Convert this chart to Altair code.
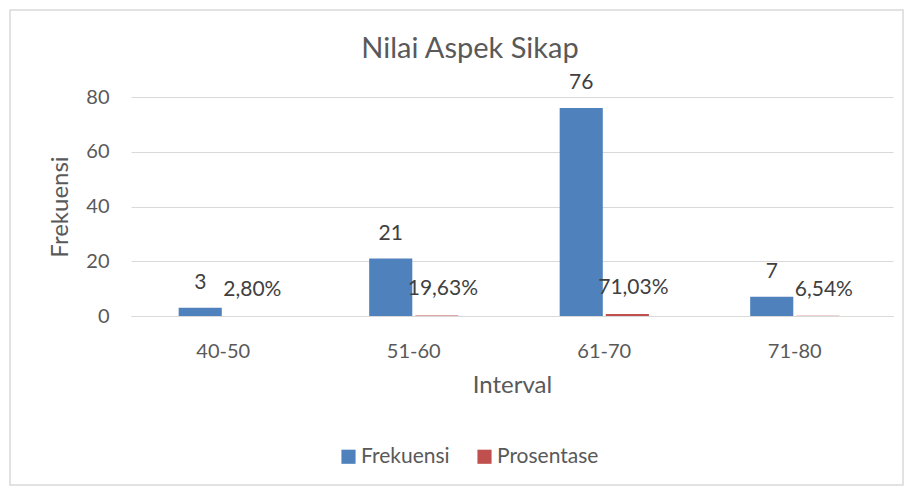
import altair as alt
import pandas as pd

categories = ["40-50", "51-60", "61-70", "71-80"]
frekuensi = [3, 21, 76, 7]
prosentase = [0.028, 0.1963, 0.7103, 0.0654]
prosentase_labels = ["2,80%", "19,63%", "71,03%", "6,54%"]
series = ["Frekuensi", "Prosentase"]
colors = ["#4F81BD", "#C0504D"]
chart_title = "Nilai Aspek Sikap"

rows = []
for c, f, p, pl in zip(categories, frekuensi, prosentase, prosentase_labels):
    rows.append({"Interval": c, "Seri": "Frekuensi", "Nilai": f, "Label": str(f)})
    rows.append({"Interval": c, "Seri": "Prosentase", "Nilai": p, "Label": pl})
df = pd.DataFrame(rows)

FONT = "Lato"
GREY = "#595959"

xscale = alt.Scale(paddingInner=0.517, paddingOuter=0.2585, align=0.47)
x_enc = alt.X("Interval:N", sort=categories, scale=xscale,
              axis=alt.Axis(title="Interval", labelAngle=0, labelFontSize=20,
                            titleFontSize=24, labelColor=GREY, titleColor=GREY,
                            titleFontWeight="normal", ticks=False,
                            domainColor="#D9D9D9", labelPadding=25, titlePadding=12,
                            labelFont=FONT, titleFont=FONT))
xoff = alt.XOffset("Seri:N", sort=series,
                   scale=alt.Scale(paddingInner=0.065, paddingOuter=0.03))
y_enc = alt.Y("Nilai:Q", scale=alt.Scale(domain=[0, 80], nice=False),
              axis=alt.Axis(title="Frekuensi", values=[0, 20, 40, 60, 80],
                            labelFontSize=20, titleFontSize=24, labelColor=GREY,
                            titleColor=GREY, titleFontWeight="normal",
                            ticks=False, domain=False, gridColor="#D9D9D9",
                            labelPadding=22, titlePadding=13,
                            labelFont=FONT, titleFont=FONT))

base = alt.Chart(df)

bars = base.mark_bar().encode(
    x=x_enc, xOffset=xoff, y=y_enc,
    color=alt.Color("Seri:N", sort=series,
                    scale=alt.Scale(domain=series, range=colors),
                    legend=alt.Legend(title=None, orient="none", direction="horizontal",
                                      legendX=207, legendY=349, symbolType="square",
                                      symbolSize=200, labelFontSize=21, labelOffset=2,
                                      labelColor=GREY, labelFont=FONT,
                                      columnPadding=24, symbolStrokeWidth=0)),
)

label_enc = dict(
    x=alt.X("Interval:N", sort=categories), xOffset=alt.XOffset("Seri:N", sort=series),
    y="Nilai:Q", text="Label:N",
)
labels_f = base.transform_filter(alt.datum.Seri == "Frekuensi").mark_text(
    dy=-25, fontSize=21, color="#404040", font=FONT).encode(**label_enc)
labels_p = base.transform_filter(alt.datum.Seri == "Prosentase").mark_text(
    dy=-26, dx=6, fontSize=21, color="#404040", font=FONT).encode(**label_enc)

one = alt.Data(values=[{"t": chart_title}])
border = alt.Chart(one).mark_rect(
    filled=False, stroke="#D9D9D9", strokeWidth=1.5
).encode(x=alt.value(-121), x2=alt.value(772), y=alt.value(-87), y2=alt.value(388))

title = alt.Chart(one).mark_text(
    fontSize=29, font=FONT, color=GREY, baseline="middle", align="center"
).encode(x=alt.value(339), y=alt.value(-48), text="t:N")

chart = alt.layer(border, title, bars, labels_f, labels_p).properties(
    width=762, height=219,
    autosize=alt.AutoSizeParams(type="none"),
    padding={"left": 123, "top": 89, "right": 12, "bottom": 171},
).configure_view(stroke=None)

chart.save("out.html", embed_options={"renderer": "svg", "actions": False})
